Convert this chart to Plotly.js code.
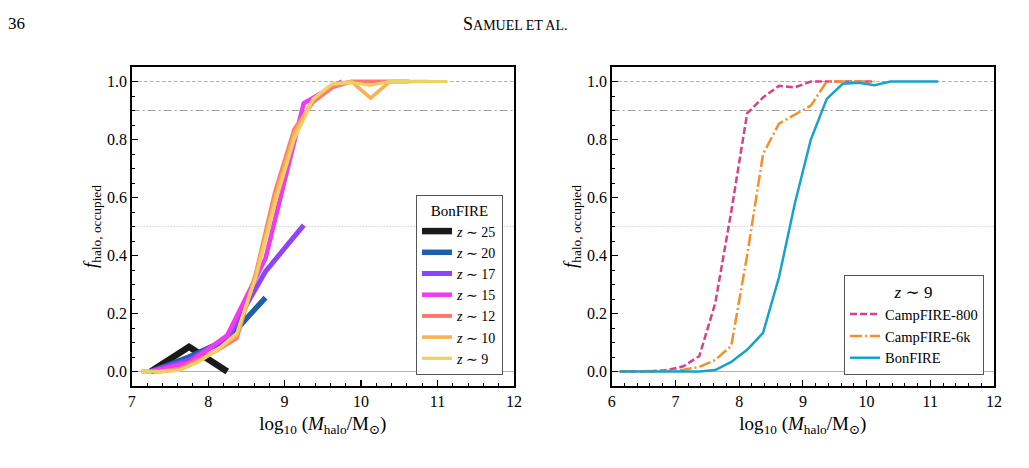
<!DOCTYPE html>
<html><head><meta charset="utf-8">
<script src="https://cdn.plot.ly/plotly-3.0.1.min.js"></script>
<style>html,body{margin:0;padding:0;background:#fff;} #chart{width:1029px;height:468px;}</style>
</head><body><div id="chart"></div>
<script>
// ---- data ----
const xCoarse = [7.25, 7.75, 8.25, 8.75, 9.25, 9.75];
const xFine = [6.125, 6.375, 6.625, 6.875, 7.125, 7.375, 7.625, 7.875, 8.125, 8.375,
               8.625, 8.875, 9.125, 9.375, 9.625, 9.875, 10.125, 10.375, 10.625, 10.875, 11.125];
const z25 = [0, 0.085, 0];
const z20 = [0, 0.05, 0.11, 0.255];
const z17 = [0, 0.04, 0.115, 0.345, 0.505];
const z15 = [0, 0.03, 0.125, 0.39, 0.925, 1.0];
// fine-binned left panel series start at x = 7.125
const z12 = [0, 0, 0.01, 0.04, 0.075, 0.115, 0.34, 0.62, 0.835, 0.93, 0.98, 1.0, 1.0, 1.0, 1.0];
const z10 = [0, 0, 0.005, 0.035, 0.075, 0.125, 0.335, 0.6, 0.82, 0.94, 0.99, 1.0, 0.943, 1.0, 1.0, 1.0];
// right panel (x from 6.125)
const camp800 = [0, 0, 0.001, 0.005, 0.018, 0.053, 0.236, 0.55, 0.89, 0.945, 0.985, 0.98, 1, 1, 1, 1, 1];
const camp6k  = [0, 0, 0, 0.002, 0.006, 0.016, 0.04, 0.088, 0.40, 0.75, 0.855, 0.886, 0.917, 1, 1, 1, 1];
const bonfire = [0, 0, 0, 0, 0, 0, 0.005, 0.033, 0.075, 0.133, 0.325, 0.58, 0.80, 0.94, 0.992, 0.996, 0.987, 1, 1, 1, 1];
const z9 = bonfire.slice(4);
const xLeftFine = xFine.slice(4);

const leftNames = ['<i>z</i> ∼ 25', '<i>z</i> ∼ 20', '<i>z</i> ∼ 17', '<i>z</i> ∼ 15', '<i>z</i> ∼ 12', '<i>z</i> ∼ 10', '<i>z</i> ∼ 9'];
const rightNames = ['CampFIRE-800', 'CampFIRE-6k', 'BonFIRE'];

const leftColors = ['#1a1a1a', '#1f5ea8', '#8e44f8', '#f03cee', '#ff7a6c', '#f9b153', '#efd064'];
const leftWidths = [6.5, 5.5, 5, 4.5, 4, 3.6, 3.2];
const leftSeries = [[xCoarse, z25], [xCoarse, z20], [xCoarse, z17], [xCoarse, z15],
                    [xLeftFine, z12], [xLeftFine, z10], [xLeftFine, z9]];

const traces = [];
leftSeries.forEach((s, i) => {
  traces.push({x: s[0].slice(0, s[1].length), y: s[1], type: 'scatter', mode: 'lines',
    name: leftNames[i], xaxis: 'x', yaxis: 'y', legend: 'legend',
    line: {color: leftColors[i], width: leftWidths[i]}});
});
traces.push({x: xFine.slice(0, camp800.length), y: camp800, type: 'scatter', mode: 'lines', name: rightNames[0],
  xaxis: 'x2', yaxis: 'y2', legend: 'legend2', line: {color: '#d6418a', width: 2.5, dash: '7px,3px'}});
traces.push({x: xFine.slice(0, camp6k.length), y: camp6k, type: 'scatter', mode: 'lines', name: rightNames[1],
  xaxis: 'x2', yaxis: 'y2', legend: 'legend2', line: {color: '#f68f2a', width: 2.5, dash: '12px,3px,2px,3px'}});
traces.push({x: xFine, y: bonfire, type: 'scatter', mode: 'lines', name: rightNames[2],
  xaxis: 'x2', yaxis: 'y2', legend: 'legend2', line: {color: '#17a2ca', width: 2.5}});

const F = 'Liberation Serif, DejaVu Serif, serif';
const xTitle = 'log<sub>10</sub> (<i>M</i><sub>halo</sub>/M<sub>⊙</sub>)';
const yTitle = '<i>f</i><sub>halo, occupied</sub>';

function xax(dom, r0, anchor) {
  return {domain: dom, range: [r0, 12], tick0: r0, dtick: 1, ticks: 'inside', ticklen: 6, tickwidth: 1.2,
    tickcolor: '#000', minor: {dtick: 0.2, ticks: 'inside', ticklen: 3, tickwidth: 1, tickcolor: '#000'},
    showline: true, linewidth: 1.6, linecolor: '#000', mirror: true, showgrid: false, zeroline: false,
    anchor: anchor, tickfont: {family: F, size: 16, color: '#000'},
    title: {text: xTitle, font: {family: F, size: 19, color: '#000'}, standoff: 8}};
}
function yax(anchor) {
  return {domain: [0.1752, 0.8568], range: [-0.05, 1.05], tick0: 0, dtick: 0.2, tickformat: '.1f',
    ticks: 'inside', ticklen: 6, tickwidth: 1.2, tickcolor: '#000',
    minor: {dtick: 0.05, ticks: 'inside', ticklen: 3, tickwidth: 1, tickcolor: '#000'},
    showline: true, linewidth: 1.6, linecolor: '#000', mirror: true, showgrid: false, zeroline: false,
    anchor: anchor, tickfont: {family: F, size: 16, color: '#000'},
    title: {text: yTitle, font: {family: F, size: 19, color: '#000'}, standoff: 4}};
}

const refLines = [[1.0, '#b0b0b0', '4px,2px'], [0.9, '#a0a0a0', '8px,3px,2px,3px'], [0.5, '#c0c0c0', '1px,2px'], [0.0, '#b0b0b0', 'solid']];
const shapes = [];
[['x', 'y'], ['x2', 'y2']].forEach(([xa, ya]) => {
  refLines.forEach(([v, c, d]) => {
    shapes.push({type: 'line', xref: xa + ' domain', yref: ya, x0: 0, x1: 1, y0: v, y1: v,
      layer: 'below', line: {color: c, width: 1, dash: d}});
  });
});

const layout = {
  width: 1029, height: 468, margin: {l: 0, r: 0, t: 0, b: 0},
  paper_bgcolor: '#fff', plot_bgcolor: '#fff', font: {family: F, color: '#000'},
  xaxis: xax([0.128, 0.4995], 7, 'y'), yaxis: yax('x'),
  xaxis2: xax([0.5945, 0.966], 6, 'y2'), yaxis2: yax('x2'),
  shapes: shapes,
  showlegend: true,
  legend: {x: 0.4888, y: 0.1987, xanchor: 'right', yanchor: 'bottom', bgcolor: '#fff',
    bordercolor: '#555', borderwidth: 1, font: {family: F, size: 14, color: '#000'}, itemwidth: 30,
    title: {text: 'BonFIRE', side: 'top center', font: {family: F, size: 15}}, tracegroupgap: 0},
  legend2: {x: 0.9563, y: 0.1987, xanchor: 'right', yanchor: 'bottom', bgcolor: '#fff',
    bordercolor: '#555', borderwidth: 1, font: {family: F, size: 14.5, color: '#000'}, itemwidth: 30,
    title: {text: '<i>z</i> ∼ 9', side: 'top center', font: {family: F, size: 17}}},
  annotations: [
    {xref: 'paper', yref: 'paper', x: 0.006, y: 0.949, xanchor: 'left', yanchor: 'middle', showarrow: false,
      text: '36', font: {family: F, size: 17, color: '#000'}},
    {xref: 'paper', yref: 'paper', x: 0.5005, y: 0.949, xanchor: 'center', yanchor: 'middle', showarrow: false,
      text: 'S<span style="font-size:14px">AMUEL ET AL.</span>', font: {family: F, size: 18, color: '#000'}}
  ]
};
Plotly.newPlot('chart', traces, layout, {displayModeBar: false, staticPlot: true});
</script></body></html>
